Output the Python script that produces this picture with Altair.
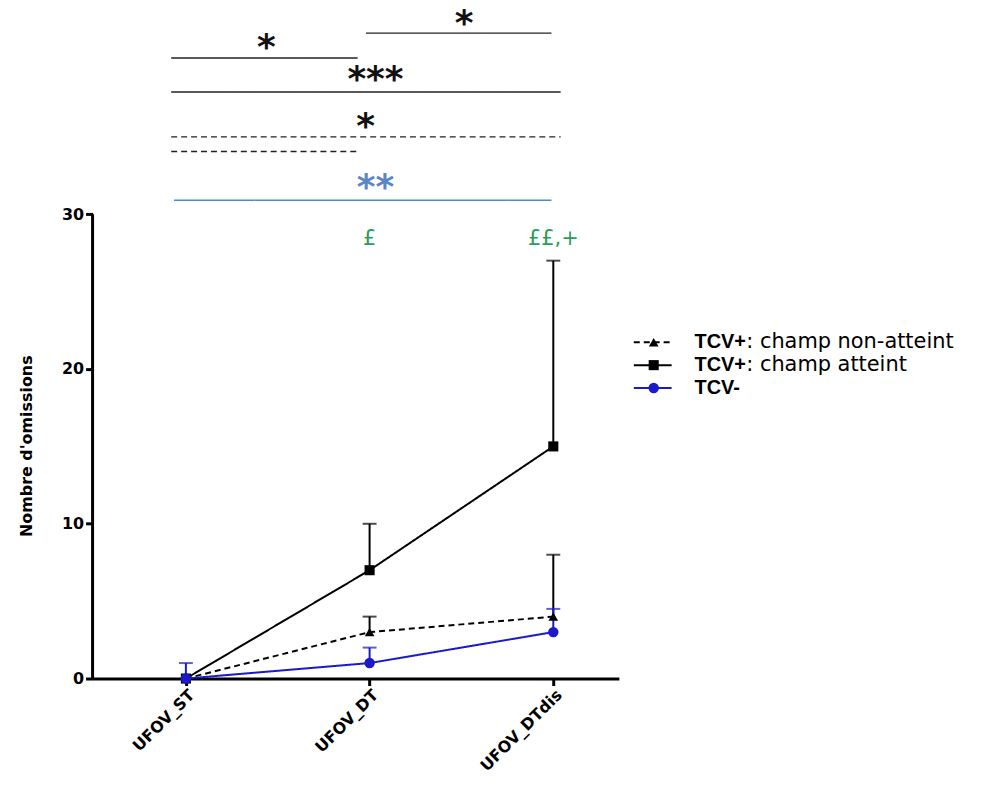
import json
import altair as alt
import pandas as pd

# ---------------- data ----------------
categories = ["UFOV_ST", "UFOV_DT", "UFOV_DTdis"]
series = ["TCV+ : champ non-atteint", "TCV+ : champ atteint", "TCV-"]
series_bold = ["TCV+", "TCV+", "TCV-"]
series_rest = [": champ non-atteint", ": champ atteint", ""]

non_atteint_mean = [0, 3, 4]
non_atteint_upper = [0, 4, 8]
atteint_mean = [0, 7, 15]
atteint_upper = [0, 10, 27]
tcv_neg_mean = [0, 1, 3]
tcv_neg_upper = [1, 2, 4.5]

y_ticks = [0, 10, 20, 30]
y_title = "Nombre d'omissions"

# significance brackets (x in category units, level in y units)
bracket_group = ["TCV+ : champ atteint", "TCV+ : champ atteint", "TCV+ : champ atteint",
                 "TCV+ : champ non-atteint", "TCV+ : champ non-atteint", "TCV-"]
bracket_start = [-0.08, 0.98, -0.08, -0.08, -0.08, -0.065]
bracket_end = [0.935, 1.99, 2.04, 2.04, 0.935, 1.99]
bracket_level = [40.1, 41.7, 37.9, 35.0, 34.05, 30.9]

star_group = ["TCV+ : champ atteint", "TCV+ : champ atteint", "TCV+ : champ atteint",
              "TCV+ : champ non-atteint", "TCV-"]
star_text = ["*", "*", "***", "*", "**"]
star_x = [0.438, 1.514, 1.032, 0.978, 1.032]
star_level = [41.0, 42.55, 38.9, 35.9, 31.95]

green_text = ["£", "££,+"]
green_x = [1, 2]
green_level = [28.0, 28.0]

# ---------------- tables ----------------
rows = []
for s, m, u in zip(series, [non_atteint_mean, atteint_mean, tcv_neg_mean],
                   [non_atteint_upper, atteint_upper, tcv_neg_upper]):
    for i in range(len(categories)):
        rows.append({"serie": s, "pos": i, "moyenne": m[i], "haut": u[i]})
df = pd.DataFrame(rows)
df_err = df[df["haut"] > df["moyenne"]]

brackets = pd.DataFrame({"groupe": bracket_group, "debut": bracket_start,
                         "fin": bracket_end, "niveau": bracket_level})
stars = pd.DataFrame({"groupe": star_group, "texte": star_text, "pos": star_x, "niveau": star_level})
greens = pd.DataFrame({"texte": green_text, "pos": green_x, "niveau": green_level})
legend_df = pd.DataFrame({"serie": series, "gras": series_bold, "suite": series_rest})

# ---------------- scales ----------------
XMIN, XMAX = -0.508, 2.357
YMAX = 43.2
FONT = "DejaVu Sans"

x_scale = alt.Scale(domain=[XMIN, XMAX], nice=False, zero=False)
y_scale = alt.Scale(domain=[0, YMAX], nice=False, zero=True)

color_enc = alt.Color("serie:N", scale=alt.Scale(domain=series, range=["#000000", "#000000", "#1a1acb"]), legend=None)
dash_scale = alt.Scale(domain=series, range=[[6, 4], [1, 0], [1, 0]])
shape_enc = alt.Shape("serie:N", scale=alt.Scale(domain=series, range=["triangle-up", "square", "circle"]), legend=None)
size_enc = alt.Size("serie:N", scale=alt.Scale(domain=series, range=[95, 110, 75]), legend=None)

x_axis = alt.Axis(values=[0, 1, 2], labelExpr=json.dumps(categories) + "[datum.value]",
                  labelAngle=-45, labelFont=FONT, labelFontWeight="bold", labelFontSize=16,
                  labelColor="black", tickColor="black", tickWidth=3, tickSize=7,
                  domainColor="black", domainWidth=3, grid=False, labelPadding=1)
y_axis = alt.Axis(values=y_ticks, domain=False, grid=False, labelFont=FONT, labelFontWeight="bold",
                  labelFontSize=16, labelColor="black", tickColor="black", tickWidth=3, tickSize=7,
                  labelPadding=2, titleFont=FONT, titleFontWeight="bold", titleFontSize=16,
                  titleColor="black", titleX=-66, titleY=438, titleAlign="center",
                  titleBaseline="middle", titleAngle=-90)


def X(field):
    return alt.X(field, scale=x_scale, axis=x_axis, title=None)


def Y(field):
    return alt.Y(field, scale=y_scale, axis=y_axis, title=y_title)


base = alt.Chart(df)

bracket_layer = alt.Chart(brackets).mark_rule(strokeWidth=1.4).encode(
    x=X("debut:Q"), x2="fin:Q", y=Y("niveau:Q"),
    stroke=alt.Stroke("groupe:N", scale=alt.Scale(domain=series, range=["#222222", "#222222", "#4a8bd0"]), legend=None),
    strokeDash=alt.StrokeDash("groupe:N", scale=dash_scale, legend=None),
)

star_layer = alt.Chart(stars).mark_text(font=FONT, fontSize=36, fontWeight="bold", dy=15,
                                        baseline="alphabetic").encode(
    x=X("pos:Q"), y=Y("niveau:Q"), text="texte:N",
    fill=alt.Fill("groupe:N", scale=alt.Scale(domain=series, range=["#111111", "#111111", "#5a86c6"]), legend=None),
)

green_layer = alt.Chart(greens).mark_text(font=FONT, fontSize=21, color="#2a9d5c", baseline="alphabetic").encode(
    x=X("pos:Q"), y=Y("niveau:Q"), text="texte:N",
)

yaxis_line = alt.Chart(pd.DataFrame({"a": [0]})).mark_rule(strokeWidth=3, color="black").encode(
    x=alt.value(0), y=alt.YDatum(y_ticks[0], scale=y_scale, axis=y_axis, title=y_title),
    y2=alt.datum(y_ticks[-1]),
)

err_rule = alt.Chart(df_err).mark_rule(strokeWidth=2).encode(
    x=X("pos:Q"), y=Y("moyenne:Q"), y2="haut:Q", color=color_enc,
)
err_cap = alt.Chart(df_err).mark_tick(thickness=2, size=14, orient="horizontal").encode(
    x=X("pos:Q"), y=Y("haut:Q"), color=color_enc,
)

lines = base.mark_line(strokeWidth=2).encode(
    x=X("pos:Q"), y=Y("moyenne:Q"), color=color_enc,
    strokeDash=alt.StrokeDash("serie:N", scale=dash_scale, legend=None), detail="serie:N",
)
points = base.mark_point(filled=True, opacity=1).encode(
    x=X("pos:Q"), y=Y("moyenne:Q"), color=color_enc, shape=shape_enc, size=size_enc,
)

main = alt.layer(bracket_layer, star_layer, green_layer, yaxis_line, err_rule, err_cap, lines, points)

# ---------------- legend (hand built, own row scale) ----------------
ly = alt.Y("serie:N", scale=alt.Scale(domain=series, range=[322.5, 391.5]), axis=None)
leg = alt.Chart(legend_df)
leg_line = leg.mark_rule(strokeWidth=2).encode(
    x=alt.value(544), x2=alt.value(582), y=ly, color=color_enc,
    strokeDash=alt.StrokeDash("serie:N", scale=dash_scale, legend=None),
)
leg_pt = leg.mark_point(filled=True, opacity=1).encode(
    x=alt.value(564), y=ly, color=color_enc, shape=shape_enc, size=size_enc,
)
leg_bold = leg.mark_text(align="left", baseline="middle", font="Liberation Sans", fontWeight="bold",
                         fontSize=20, color="black").encode(x=alt.value(605), y=ly, text="gras:N")
leg_rest = leg.mark_text(align="left", baseline="middle", font=FONT, fontSize=21,
                         color="black").encode(x=alt.value(657), y=ly, text="suite:N")
legend = alt.layer(leg_line, leg_pt, leg_bold, leg_rest)

chart = alt.layer(main, legend).resolve_scale(y="independent").properties(
    width=529, height=672,
    autosize=alt.AutoSizeParams(type="none"),
    padding={"left": 85, "top": 0, "right": 370, "bottom": 97},
).configure(background="white").configure_view(stroke=None)

chart.save("out.html", embed_options={"renderer": "svg", "actions": False})
